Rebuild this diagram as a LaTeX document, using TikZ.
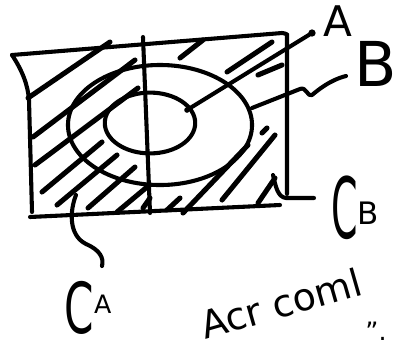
\documentclass[tikz,border=0pt]{standalone}
\usepackage{graphicx}
\usepackage{fontspec}
\setmainfont{DejaVu Sans}
\usepackage{tikz}
\usetikzlibrary{calc}

\begin{document}
\begin{tikzpicture}[x=0.025cm,y=-0.025cm,
  pen/.style={line width=2.9pt, line cap=round, line join=round},
  hatch/.style={line width=3.6pt, line cap=round},
  lbl/.style={inner sep=0pt}]
  \useasboundingbox (0,0) rectangle (399,343);

  % Frame (universal set)
  \coordinate (TL) at (12,55);
  \coordinate (TR) at (287,34);
  \coordinate (BR) at (287,194);
  \coordinate (BL) at (30,217);
  \draw[pen] (TL) .. controls (22,70) and (28,85) .. (29,100) -- (32,212);
  \draw[pen] (TL) -- (282,33) .. controls (286,33) and (288,36) .. (TR) -- (BR);
  \draw[pen] (BL) -- (280,205);

  % Dividing line
  \coordinate (V1) at (143,37);
  \coordinate (V2) at (150,213);
  \draw[pen] (V1) -- (V2);

  % Sets B (outer) and A (inner)
  \coordinate (cB) at (160,125);
  \coordinate (cA) at (150,123);
  \draw[pen] (cB) ellipse [x radius=2.3cm, y radius=1.5cm];
  \draw[pen] (cA) ellipse [x radius=1.13cm, y radius=0.76cm];

  % Hatching, left half
  \foreach \xa/\ya/\xb/\yb in {28/98/110/42, 33/137/135/60, 35/165/138/88,
      42/192/102/142, 57/205/117/155, 88/208/135/167, 117/212/147/187,
      143/208/150/198}
    \draw[hatch] (\xa,\ya) -- (\xb,\yb);

  % Hatching, right half
  \foreach \xa/\ya/\xb/\yb in {167/210/180/198, 183/213/248/145,
      222/200/275/135, 262/133/267/128, 258/203/275/178,
      180/58/203/40, 227/72/272/42, 258/75/282/65}
    \draw[hatch] (\xa,\ya) -- (\xb,\yb);

  % Labels
  \node[lbl,font=\fontsize{30}{30}\selectfont] (labA) at (338,21) {A};
  \node[lbl,font=\fontsize{44}{44}\selectfont] (labB) at (376,64) {B};
  \node[lbl,font=\fontsize{50}{50}\selectfont] (labCA) at (88,308)
    {\scalebox{0.6}[1]{C}\raisebox{14pt}{\fontsize{18}{18}\selectfont A}};
  \node[lbl,font=\fontsize{60}{60}\selectfont] (labCB) at (355,208)
    {\scalebox{0.45}[1]{C}\raisebox{10pt}{\fontsize{22}{22}\selectfont B}};

  % Leaders
  \coordinate (inA) at (187,110);
  \coordinate (endA) at (312,33);
  \draw[pen] (inA) -- (endA);
  \fill (endA) circle (2.6pt);
  \fill (inA) circle (2pt);

  \coordinate (onB) at (252,108);
  \draw[pen] (onB) -- (300,89) .. controls (306,86) and (308,98) .. (312,95)
    .. controls (318,90) and (330,80) .. (346,76);

  \coordinate (inCB) at (273,175);
  \draw[pen] (inCB) .. controls (276,188) and (278,197) .. (286,198) -- (314,198);

  \coordinate (inCA) at (76,195);
  \draw[pen] (inCA) .. controls (70,210) and (68,235) .. (86,244)
    .. controls (100,250) and (104,258) .. (102,266);

  % Note at the bottom
  \node[lbl,anchor=base west,rotate=16,font=\fontsize{27}{27}\selectfont]
    (note) at (205,340) {Acr coml};
  \node[lbl,font=\fontsize{18}{18}\selectfont] (quote) at (376,331) {''.};
\end{tikzpicture}
\end{document}
